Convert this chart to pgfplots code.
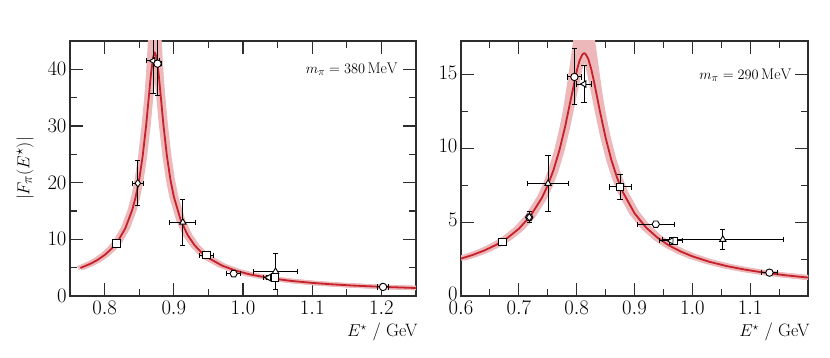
\documentclass[border=0pt]{standalone}
\usepackage{fontspec}
\usepackage{pgfplots}
\pgfplotsset{compat=1.18}
\usepgfplotslibrary{fillbetween}
\usepackage{pgfplotstable}

\definecolor{bandc}{RGB}{236,184,186}
\definecolor{linec}{RGB}{198,32,42}
\definecolor{axc}{RGB}{45,45,45}

\newcommand{\tickfont}{\fontsize{20.5}{24}\selectfont}
\newcommand{\labfont}{\fontsize{18}{22}\selectfont}
\newcommand{\annfont}{\fontsize{15.5}{18}\selectfont}

\pgfdeclareplotmark{hexagon*}{%
  \pgfpathmoveto{\pgfpointpolar{0}{\pgfplotmarksize}}%
  \pgfpathlineto{\pgfpointpolar{60}{\pgfplotmarksize}}%
  \pgfpathlineto{\pgfpointpolar{120}{\pgfplotmarksize}}%
  \pgfpathlineto{\pgfpointpolar{180}{\pgfplotmarksize}}%
  \pgfpathlineto{\pgfpointpolar{240}{\pgfplotmarksize}}%
  \pgfpathlineto{\pgfpointpolar{300}{\pgfplotmarksize}}%
  \pgfpathclose
  \pgfusepathqfillstroke
}

\pgfplotstableread{
E F Fu
0.765 4.940 4.940
0.78 5.714 5.714
0.79 6.383 6.383
0.80 7.230 7.230
0.81 8.335 8.335
0.82 9.832 9.944
0.83 11.965 12.167
0.84 15.211 15.63
0.845 17.535 18.18
0.85 20.584 21.64
0.855 24.659 26.53
0.86 30.062 33.65
0.864 35.264 41.47
0.867 39.156 48.2
0.87 42.08 53.97
0.8725 43.00 55.87
0.875 42.18 54.1
0.878 39.33 48.41
0.881 35.45 41.65
0.885 30.22 33.77
0.89 24.756 26.59
0.895 20.634 21.65
0.90 17.55 18.16
0.91 13.38 13.64
0.92 10.751 10.885
0.93 8.964 9.041
0.94 7.678 7.678
0.95 6.710 6.710
0.97 5.353 5.353
0.99 4.451 4.451
1.01 3.808 3.808
1.04 3.131 3.131
1.07 2.659 2.659
1.10 2.312 2.312
1.13 2.046 2.046
1.16 1.836 1.836
1.20 1.617 1.617
1.25 1.410 1.410
}\lefttab

\pgfplotstableread{
E F Fu
0.60 2.540 2.540
0.62 2.783 2.783
0.64 3.082 3.102
0.66 3.454 3.482
0.68 3.931 3.972
0.70 4.561 4.624
0.72 5.425 5.530
0.74 6.669 6.862
0.75 7.508 7.784
0.76 8.553 8.964
0.77 9.862 10.500
0.78 11.480 12.514
0.79 13.374 15.075
0.80 15.251 17.903
0.805 15.972 19.08
0.81 16.396 19.80
0.8126 16.469 19.92
0.815 16.441 19.86
0.82 16.096 19.24
0.825 15.428 18.11
0.83 14.547 16.718
0.84 12.575 13.886
0.85 10.745 11.520
0.86 9.227 9.699
0.87 8.010 8.311
0.88 7.038 7.238
0.90 5.616 5.715
0.92 4.645 4.699
0.94 3.946 3.979
0.96 3.422 3.443
0.98 3.017 3.030
1.00 2.693 2.703
1.03 2.315 2.315
1.06 2.025 2.025
1.09 1.796 1.796
1.12 1.610 1.610
1.16 1.411 1.411
1.20 1.250 1.250
}\righttab

\pgfplotsset{
  myaxis/.style={
    scale only axis, width=346bp, height=255bp, anchor=south west,
    axis line style={axc, line width=1.25bp},
    every tick/.style={axc, line width=1.15bp},
    major tick length=13bp, minor tick length=7bp,
    tick align=inside, minor tick num=1,
    xtick pos=both, ytick pos=both,
    xticklabel pos=lower, yticklabel pos=left,
    xticklabel style={font=\tickfont, yshift=-1.5bp, /pgf/number format/fixed,
      /pgf/number format/fixed zerofill, /pgf/number format/precision=1},
    yticklabel style={font=\tickfont, /pgf/number format/fixed,
      /pgf/number format/precision=0},
    xlabel={$E^\star$ / GeV},
    xlabel style={font=\labfont, at={(rel axis cs:1,0)}, anchor=east,
      xshift=5bp, yshift=-36bp},
    clip=true,
  },
  databar/.style={only marks, mark size=3.7bp,
    mark options={fill=white, draw=black, line width=0.9bp, solid},
    error bars/x dir=both, error bars/x explicit,
    error bars/y dir=both, error bars/y explicit,
    error bars/error bar style={black, line width=1bp},
    error bars/error mark options={black, line width=1bp, mark size=2.6bp, rotate=90}},
  band/.style={bandc, line width=4.2bp, line join=round, forget plot},
}

\begin{document}
\begin{tikzpicture}

% ---------------- left panel ----------------
\begin{axis}[myaxis, at={(70bp,62bp)},
  xmin=0.75, xmax=1.25, ymin=0, ymax=45,
  xtick={0.8,0.9,1.0,1.1,1.2}, ytick={0,10,20,30,40},
  ylabel={$|F_\pi(E^\star)|$},
  ylabel style={font=\fontsize{19}{22}\selectfont, at={(rel axis cs:-0.13,0.5)}, rotate=0, anchor=center},
]
\addplot[draw=none, name path=lc, forget plot] table[x=E, y=F]{\lefttab};
\addplot[draw=none, name path=lu, forget plot] table[x=E, y=Fu]{\lefttab};
\addplot[bandc, forget plot] fill between[of=lu and lc];
\addplot[band] table[x expr=\thisrow{E}-0.0035, y=F]{\lefttab};
\addplot[band] table[x expr=\thisrow{E}+0.0035, y=F]{\lefttab};
\addplot[band] table[x=E, y=Fu]{\lefttab};
\addplot[band] table[x=E, y=F]{\lefttab};
\addplot[linec, line width=1.8bp, line join=round] table[x=E, y=F]{\lefttab};

\addplot[databar, mark=square*] coordinates {
  (0.817,9.3) +- (0.003,0.3)
  (0.947,7.2) +- (0.0103,0.35)
  (1.046,3.3) +- (0.005,0.3)
};
\addplot[databar, mark=diamond*] coordinates {
  (0.848,19.9) +- (0.008,4.0)
};
\addplot[databar, mark=hexagon*] coordinates {
  (0.9865,3.95) +- (0.0103,0.3)
};
\addplot[databar, mark=triangle*] coordinates {
  (0.913,13.0) +- (0.019,4.1)
  (1.047,4.3) +- (0.032,3.2)
};
\addplot[databar, mark=triangle*, every mark/.append style={rotate=90}] coordinates {
  (0.870,41.5) +- (0.010,5.8)
  (1.037,3.25) +- (0.007,0.3)
};
\addplot[databar, mark=*] coordinates {
  (0.8765,41.0) +- (0.006,5.7)
  (1.2024,1.6) +- (0.0078,0.25)
};
\node[anchor=east, fill=white, inner sep=1.5bp, font=\annfont]
  at (axis cs:1.226,40) {$m_\pi = 380\,\mathrm{MeV}$};
\end{axis}

% ---------------- right panel ----------------
\begin{axis}[myaxis, at={(461bp,62bp)}, width=347bp,
  xmin=0.6, xmax=1.2, ymin=0, ymax=17.3,
  xtick={0.6,0.7,0.8,0.9,1.0,1.1}, ytick={0,5,10,15},
  minor xtick={0.65,0.75,0.85,0.95,1.05,1.15},
  minor ytick={2.5,7.5,12.5},
  yticklabel style={yshift=2.5bp},
]
\addplot[draw=none, name path=rc, forget plot] table[x=E, y=F]{\righttab};
\addplot[draw=none, name path=ru, forget plot] table[x=E, y=Fu]{\righttab};
\addplot[bandc, forget plot] fill between[of=ru and rc];
\addplot[band, line width=4.6bp] table[x expr=\thisrow{E}-0.005, y=F]{\righttab};
\addplot[band, line width=4.6bp] table[x expr=\thisrow{E}+0.005, y=F]{\righttab};
\addplot[band, line width=4.6bp] table[x=E, y=Fu]{\righttab};
\addplot[band, line width=4.6bp] table[x=E, y=F]{\righttab};
\addplot[linec, line width=1.8bp, line join=round] table[x=E, y=F]{\righttab};

\addplot[databar, mark=square*] coordinates {
  (0.6715,3.65) +- (0.004,0.15)
  (0.875,7.40) +- (0.019,0.85)
  (0.967,3.72) +- (0.006,0.2)
};
\addplot[databar, mark=hexagon*] coordinates {
  (0.718,5.34) +- (0.004,0.37)
  (0.9368,4.87) +- (0.032,0.1)
};
\addplot[databar, mark=diamond*] coordinates {
  (0.718,5.34) +- (0.004,0.37)
};
\addplot[databar, mark=triangle*] coordinates {
  (0.7505,7.63) +- (0.035,1.9)
  (1.0527,3.83) +- (0.105,0.68)
};
\addplot[databar, mark=triangle*, every mark/.append style={rotate=90}] coordinates {
  (0.8128,14.38) +- (0.0135,1.27)
  (0.9633,3.74) +- (0.02,0.2)
};
\addplot[databar, mark=*] coordinates {
  (0.7961,14.86) +- (0.012,1.9)
  (1.1334,1.585) +- (0.0135,0.1)
};
\node[anchor=east, fill=white, inner sep=1.5bp, font=\annfont]
  at (axis cs:1.174,15) {$m_\pi = 290\,\mathrm{MeV}$};
\end{axis}

\pgfresetboundingbox
\path[use as bounding box] (0,0) rectangle (830bp,358bp);
\end{tikzpicture}
\end{document}
